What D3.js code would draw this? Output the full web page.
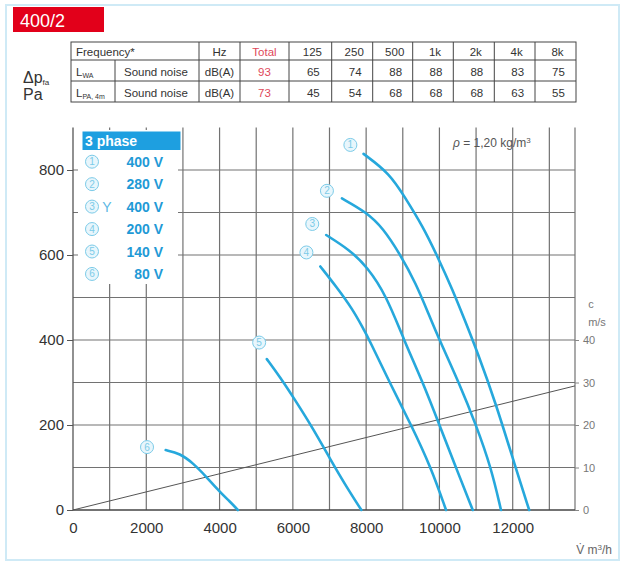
<!DOCTYPE html>
<html><head><meta charset="utf-8">
<script src="https://cdn.jsdelivr.net/npm/d3@7"></script>
<style>
html,body{margin:0;padding:0;background:#fff;}
svg{display:block;font-family:"Liberation Sans",Arial,sans-serif;}
</style></head>
<body>
<svg id="chart" width="623" height="565"></svg>
<script>
// ---------- DATA ----------
const title = "400/2";
const freqLabels = ["125","250","500","1k","2k","4k","8k"];
const lwaValues = [65,74,88,88,88,83,75];
const lpaValues = [45,54,68,68,68,63,55];
const totals = [93,73];

const curveIds = [1,2,3,4,5,6];
const voltages = ["400 V","280 V","400 V","200 V","140 V","80 V"];
const connection = ["","","Y","","",""];
// fan curves: [flow m3/h, pressure Pa]
const curve1 = [[7930,838],[8640,792],[9050,737],[9550,667],[9950,596],[10360,518],[10700,445],[11030,373],[11540,251],[12070,102],[12450,0]];
const curve2 = [[7340,733],[8020,700],[8460,663],[8910,604],[9360,533],[9700,462],[10000,400],[10540,298],[11000,200],[11410,100],[11680,0]];
const curve3 = [[6910,647],[7550,612],[8020,573],[8550,505],[9030,400],[9550,300],[10000,200],[10450,100],[10910,0]];
const curve4 = [[6750,573],[7190,525],[7640,471],[7900,430],[8090,400],[8640,300],[9230,200],[9770,100],[10180,0]];
const curve5 = [[5290,355],[5640,314],[6030,263],[6550,192],[7030,118],[7460,55],[7870,0]];
const curve6 = [[2530,141],[2920,133],[3280,110],[3640,78],[4000,43],[4280,20],[4500,0]];
const curves = [curve1,curve2,curve3,curve4,curve5,curve6];
// curve number anchors [flow, pressure]
const labelAnchors = [[7570,859],[6930,751],[6530,673],[6370,606],[5080,394],[2020,148]];
// air velocity line [flow, m/s]
const velocity = [[0,0],[13700,29.2]];

const xTicks = [0,2000,4000,6000,8000,10000,12000];
const yTicks = [0,200,400,600,800];
const cTicks = [0,10,20,30,40];
const xMax = 13700, yMax = 900;

// ---------- DRAW ----------
const svg = d3.select("#chart");
const blue = "#26a8dc";
const lightBlue = "#7ccbe8";

// outer frame
svg.append("rect").attr("x",6).attr("y",5).attr("width",613).attr("height",555)
  .attr("fill","none").attr("stroke","#cfeaf6").attr("stroke-width",2);

// title box
svg.append("rect").attr("x",13).attr("y",7).attr("width",91).attr("height",25).attr("fill","#e2001a");
svg.append("text").attr("x",20).attr("y",27).attr("fill","#fff").attr("font-size",18)
  .text(title);

// axis label left
const dp = svg.append("text").attr("x",23).attr("y",83).attr("font-size",16).attr("fill","#333");
dp.append("tspan").text("Δp");
dp.append("tspan").attr("font-size",8).attr("dy",2).text("fa");
svg.append("text").attr("x",23).attr("y",100).attr("font-size",16).attr("fill","#333").text("Pa");

// ---------- TABLE ----------
const colX = [71,199,240,289,331.7,372.7,412.7,453.3,494.3,535,576];
const rowY = [42,60,81,102];
const tbl = svg.append("g").attr("font-size",11.5).attr("fill","#333");
tbl.append("rect").attr("x",colX[0]).attr("y",rowY[0]).attr("width",colX[colX.length-1]-colX[0])
  .attr("height",rowY[3]-rowY[0]).attr("fill","#fff").attr("stroke","#444").attr("stroke-width",1);
rowY.slice(1,3).forEach(y=>tbl.append("line").attr("x1",colX[0]).attr("x2",colX[colX.length-1])
  .attr("y1",y).attr("y2",y).attr("stroke","#444"));
colX.slice(1,-1).forEach(x=>tbl.append("line").attr("x1",x).attr("x2",x)
  .attr("y1",rowY[0]).attr("y2",rowY[3]).attr("stroke","#444"));
tbl.append("line").attr("x1",115).attr("x2",115).attr("y1",rowY[1]).attr("y2",rowY[3]).attr("stroke","#444");
const base = [56,75.5,96.5];
const cellText = (x,y,t,color,anchor)=>tbl.append("text").attr("x",x).attr("y",y)
  .attr("text-anchor",anchor||"middle").attr("fill",color||"#333").text(t);
cellText(76,base[0],"Frequency*","#333","start");
cellText((colX[1]+colX[2])/2,base[0],"Hz");
cellText((colX[2]+colX[3])/2,base[0],"Total","#e0485a");
freqLabels.forEach((f,i)=>cellText((colX[3+i]+colX[4+i])/2+2,base[0],f));
// row labels
[["WA",base[1]],["PA, 4m",base[2]]].forEach(([sub,y])=>{
  const t = tbl.append("text").attr("x",76).attr("y",y);
  t.append("tspan").text("L");
  t.append("tspan").attr("font-size",7).attr("dy",2).text(sub);
  cellText(124,y,"Sound noise","#333","start");
  cellText((colX[1]+colX[2])/2,y,"dB(A)");
});
cellText((colX[2]+colX[3])/2,base[1],totals[0],"#e0485a");
cellText((colX[2]+colX[3])/2,base[2],totals[1],"#e0485a");
lwaValues.forEach((v,i)=>cellText((colX[3+i]+colX[4+i])/2+3,base[1],v));
lpaValues.forEach((v,i)=>cellText((colX[3+i]+colX[4+i])/2+3,base[2],v));

// ---------- CHART ----------
const x = d3.scaleLinear().domain([0,xMax]).range([73,575]);
const y = d3.scaleLinear().domain([0,yMax]).range([510,127.5]);
const yc = d3.scaleLinear().domain([0,yMax/10]).range([510,127.5]);

const grid = svg.append("g").attr("stroke","#727272").attr("stroke-width",1.2);
d3.range(1000,xMax,1000).concat([xMax]).forEach(v=>grid.append("line")
  .attr("x1",x(v)).attr("x2",x(v)).attr("y1",y(0)).attr("y2",y(yMax)));
d3.range(100,yMax,100).forEach(v=>grid.append("line")
  .attr("x1",x(0)).attr("x2",x(xMax)).attr("y1",y(v)).attr("y2",y(v)));
// axis lines
svg.append("line").attr("x1",x(0)).attr("x2",x(0)).attr("y1",y(0)).attr("y2",y(yMax))
  .attr("stroke","#555").attr("stroke-width",1.3);
svg.append("line").attr("x1",x(0)).attr("x2",x(xMax)).attr("y1",y(0)).attr("y2",y(0))
  .attr("stroke","#444").attr("stroke-width",1.5);

// axes
const gl = svg.append("g").attr("transform",`translate(${x(0)},0)`)
  .call(d3.axisLeft(y).tickValues(yTicks).tickSize(6).tickPadding(3).tickFormat(d3.format("d")));
gl.select(".domain").remove();
gl.selectAll("text").attr("font-size",15).attr("fill","#333").attr("font-family","Liberation Sans, Arial, sans-serif");
gl.selectAll("line").attr("stroke","#555");

const gb = svg.append("g").attr("transform",`translate(0,${y(0)})`)
  .call(d3.axisBottom(x).tickValues(xTicks).tickSize(0).tickPadding(12).tickFormat(d3.format("d")));
gb.select(".domain").remove();
gb.selectAll("text").attr("font-size",15).attr("fill","#333").attr("font-family","Liberation Sans, Arial, sans-serif");

const gr = svg.append("g").attr("transform",`translate(${x(xMax)},0)`)
  .call(d3.axisRight(yc).tickValues(cTicks).tickSize(4).tickPadding(4).tickFormat(d3.format("d")));
gr.select(".domain").remove();
gr.selectAll("text").attr("font-size",11).attr("fill","#777").attr("font-family","Liberation Sans, Arial, sans-serif");
gr.selectAll("line").attr("stroke","#888");
svg.append("text").attr("x",591).attr("y",308).attr("font-size",11).attr("fill","#777").attr("text-anchor","middle").text("c");
svg.append("text").attr("x",597).attr("y",326).attr("font-size",11).attr("fill","#777").attr("text-anchor","middle").text("m/s");

// x axis unit
const xu = svg.append("text").attr("x",612).attr("y",554).attr("font-size",12).attr("fill","#666").attr("text-anchor","end");
xu.append("tspan").text("V\u0307 m");
xu.append("tspan").attr("font-size",8).attr("dy",-4).text("3");
xu.append("tspan").attr("dy",4).text("/h");

// velocity line
svg.append("path").datum(velocity)
  .attr("d",d3.line().x(d=>x(d[0])).y(d=>yc(d[1])))
  .attr("fill","none").attr("stroke","#555").attr("stroke-width",1);

// density note
const rho = svg.append("text").attr("x",453).attr("y",147).attr("font-size",12).attr("fill","#555");
rho.append("tspan").attr("font-style","italic").text("ρ");
rho.append("tspan").text(" = 1,20 kg/m");
rho.append("tspan").attr("font-size",8).attr("dy",-4).text("3");

// curves
const line = d3.line().x(d=>x(d[0])).y(d=>y(d[1])).curve(d3.curveBasis);
svg.append("g").selectAll("path").data(curves).join("path")
  .attr("d",line).attr("fill","none").attr("stroke",blue).attr("stroke-width",2.6)
  .attr("stroke-linecap","round");

// circled number helper
function circled(g,cx,cy,n,r){
  g.append("circle").attr("cx",cx).attr("cy",cy).attr("r",r).attr("fill","#e8f6fc")
    .attr("stroke",lightBlue).attr("stroke-width",1);
  g.append("text").attr("x",cx).attr("y",cy+3.5).attr("text-anchor","middle")
    .attr("font-size",r*1.55).attr("fill",lightBlue).text(n);
}
const lab = svg.append("g");
labelAnchors.forEach((a,i)=>circled(lab,x(a[0]),y(a[1]),curveIds[i],6.5));

// legend
const lg = svg.append("g");
lg.append("rect").attr("x",78).attr("y",130).attr("width",100).attr("height",154).attr("fill","#fff");
lg.append("rect").attr("x",82.5).attr("y",131.5).attr("width",98).attr("height",18.5).attr("fill","#1e9fe0");
lg.append("text").attr("x",85).attr("y",146).attr("font-size",14).attr("font-weight","bold")
  .attr("fill","#fff").text("3 phase");
voltages.forEach((v,i)=>{
  const cy = 161.7 + i*22.45;
  circled(lg,92,cy,curveIds[i],6.5);
  if(connection[i]) lg.append("text").attr("x",107).attr("y",cy+5).attr("font-size",14)
    .attr("text-anchor","middle").attr("fill","#5cb8e4").text(connection[i]);
  lg.append("text").attr("x",163).attr("y",cy+5).attr("font-size",14).attr("font-weight","bold")
    .attr("text-anchor","end").attr("fill","#1f9ad6").text(v);
});
</script>
</body></html>
